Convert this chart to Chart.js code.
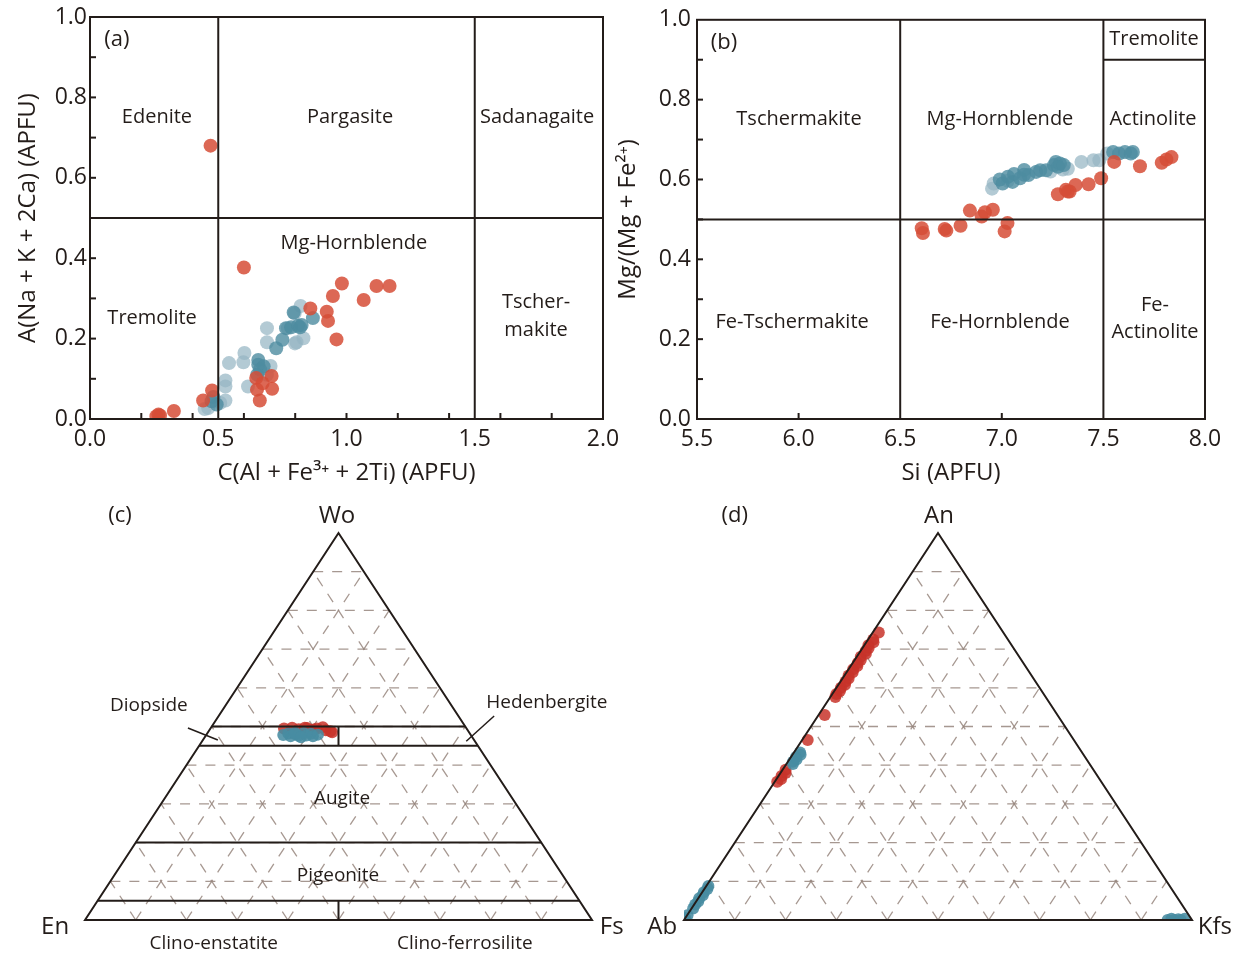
<!DOCTYPE html>
<html>
<head>
<meta charset="utf-8">
<script src="https://cdn.jsdelivr.net/npm/chart.js@4.4.1/dist/chart.umd.min.js"></script>
<style>
  body { margin: 0; background: #fff; width: 1241px; height: 957px; position: relative; overflow: hidden; }
  canvas { position: absolute; }
</style>
</head>
<body>
<canvas id="ca" width="640" height="490" style="left:0;top:0"></canvas>
<canvas id="cb" width="641" height="490" style="left:600px;top:0"></canvas>
<canvas id="cc" width="640" height="467" style="left:0;top:490px"></canvas>
<canvas id="cd" width="621" height="467" style="left:620px;top:490px"></canvas>
<script>
const INK = '#231c19';
const FONT = "'Open Sans', 'DejaVu Sans', sans-serif";

// (a) C(Al + Fe3+ + 2Ti) vs A(Na + K + 2Ca), APFU
const aRed = [[0.47,0.68],[0.60,0.377],[0.982,0.337],[1.117,0.331],[1.168,0.331],[0.947,0.306],[1.067,0.296],
  [0.859,0.275],[0.923,0.267],[0.928,0.244],[0.961,0.198],[0.648,0.102],[0.708,0.107],[0.673,0.089],[0.651,0.073],
  [0.710,0.075],[0.662,0.046],[0.476,0.071],[0.441,0.046],[0.327,0.020],[0.267,0.011],[0.273,0.009],[0.259,0.007]];
const aBlueLight = [[0.821,0.281],[0.798,0.263],[0.690,0.226],[0.690,0.191],[0.805,0.191],[0.832,0.201],[0.602,0.164],
  [0.598,0.141],[0.542,0.139],[0.528,0.096],[0.528,0.081],[0.616,0.081],[0.704,0.132],[0.528,0.046],[0.461,0.027],
  [0.447,0.025],[0.508,0.040],[0.690,0.110],[0.771,0.226],[0.799,0.188]];
const aBlueDark = [[0.869,0.251],[0.794,0.265],[0.764,0.226],[0.784,0.228],[0.811,0.232],[0.825,0.234],[0.750,0.197],
  [0.726,0.176],[0.656,0.147],[0.656,0.135],[0.663,0.123],[0.677,0.131],[0.652,0.110],[0.474,0.044],[0.494,0.036],
  [0.481,0.055],[0.819,0.228]];
const aMinorX = [0.2,0.4,0.6,0.8,1.0,1.2,1.4,1.6,1.8];
const aMinorY = [0.1,0.2,0.3,0.4,0.5,0.6,0.7,0.8,0.9];
const aFields = [[[0.5,0],[0.5,1]], [[1.5,0],[1.5,1]], [[0,0.5],[2,0.5]]];
const aNames = [['(a)',0.105,0.943,22],['Edenite',0.261,0.751,20],['Pargasite',1.014,0.751,20],['Sadanagaite',1.743,0.751,20],
  ['Mg-Hornblende',1.029,0.438,20],['Tremolite',0.242,0.251,20],['Tscher-',1.739,0.291,20],['makite',1.739,0.221,20]];

// (b) Si vs Mg/(Mg + Fe2+)
const bRed = [[6.606,0.478],[6.612,0.466],[6.719,0.476],[6.727,0.472],[6.797,0.484],[6.843,0.522],[6.901,0.507],
  [6.917,0.518],[6.956,0.524],[7.014,0.470],[7.028,0.491],[7.276,0.563],[7.315,0.574],[7.334,0.570],[7.325,0.57],
  [7.363,0.586],[7.427,0.588],[7.489,0.603],[7.553,0.644],[7.680,0.633],[7.787,0.642],[7.810,0.650],[7.835,0.656]];
const bBlueLight = [[6.952,0.577],[6.96,0.59],[7.325,0.627],[7.392,0.644],[7.451,0.648],[7.48,0.648],[7.519,0.665],
  [7.24,0.62],[7.3,0.625],[7.03,0.597]];
const bBlueDark = [[6.99,0.6],[7.004,0.59],[7.03,0.607],[7.053,0.594],[7.06,0.614],[7.09,0.603],[7.11,0.624],[7.131,0.611],
  [7.169,0.619],[7.189,0.623],[7.218,0.623],[7.257,0.636],[7.266,0.644],[7.276,0.632],[7.286,0.64],[7.305,0.636],
  [7.548,0.669],[7.577,0.665],[7.606,0.669],[7.635,0.665],[7.645,0.669],[7.11,0.612]];
const bMinorX = [6.0, 7.0];
const bMinorY = [0.1,0.2,0.3,0.4,0.5,0.6,0.7,0.8,0.9];
const bFields = [[[6.5,0],[6.5,1]], [[7.5,0],[7.5,1]], [[5.5,0.5],[8,0.5]], [[7.5,0.9],[8,0.9]]];
const bNames = [['(b)',5.633,0.943,22],['Tremolite',7.749,0.95,20],['Tschermakite',6.002,0.751,20],['Mg-Hornblende',6.991,0.751,20],
  ['Actinolite',7.744,0.751,20],['Fe-Tschermakite',5.968,0.241,20],['Fe-Hornblende',6.991,0.241,20],
  ['Fe-',7.754,0.286,20],['Actinolite',7.754,0.216,20]];

// (c) pyroxene Wo-En-Fs, points as [Wo, Fs]
const cRed = [[0.495,0.145],[0.497,0.16],[0.493,0.175],[0.496,0.19],[0.49,0.2],[0.495,0.21],[0.498,0.22],
  [0.49,0.23],[0.488,0.24],[0.485,0.245],[0.492,0.205],[0.497,0.185]];
const cBlue = [[0.478,0.152],[0.482,0.16],[0.475,0.168],[0.48,0.175],[0.476,0.183],[0.483,0.19],[0.477,0.198],
  [0.481,0.205],[0.475,0.212],[0.479,0.22],[0.484,0.172],[0.472,0.19]];
const cWoBounds = [0.05, 0.2, 0.45, 0.5];
const cSplits = [[0.45,0.5],[0,0.05]];
const cNames = [['(c)',0.069,1.044,22],['Wo',0.497,1.044,24],['En',-0.059,-0.018,24],['Fs',1.039,-0.018,24],
  ['Diopside',0.126,0.553,19],['Hedenbergite',0.911,0.563,19],['Augite',0.507,0.315,19],['Pigeonite',0.499,0.114,19],
  ['Clino-enstatite',0.254,-0.062,19],['Clino-ferrosilite',0.749,-0.062,19]];
const cLeaders = [[[0.203,0.496],[0.262,0.465]], [[0.807,0.527],[0.752,0.462]]];

// (d) feldspar An-Ab-Kfs, points as [An, Kfs]
const dRed = [[0.743,0.012],[0.725,0.01],[0.718,0.014],[0.71,0.008],[0.703,0.012],[0.695,0.01],[0.688,0.014],
  [0.68,0.008],[0.672,0.012],[0.664,0.01],[0.656,0.013],[0.648,0.009],[0.64,0.012],[0.632,0.008],[0.624,0.012],
  [0.616,0.01],[0.608,0.013],[0.6,0.009],[0.592,0.011],[0.584,0.008],[0.576,0.01],[0.53,0.012],[0.465,0.011],
  [0.388,0.006],[0.38,0.01],[0.372,0.006],[0.364,0.009],[0.357,0.005]];
const dBlue = [[0.433,0.012],[0.427,0.016],[0.421,0.01],[0.415,0.014],[0.409,0.01],[0.403,0.013],
  [0.088,0.004],[0.08,0.006],[0.072,0.003],[0.064,0.005],[0.056,0.002],[0.048,0.004],[0.04,0.002],[0.03,0.003],
  [0.012,0.001],[0.005,0.0],
  [0,0.952],[0.003,0.958],[0,0.965],[0.002,0.972],[0,0.978],[0.003,0.984]];
const dNames = [['(d)',0.1,1.044,22],['An',0.502,1.044,24],['Ab',-0.043,-0.018,24],['Kfs',1.045,-0.018,24]];

const RED = 'rgba(214,78,55,0.85)';
const BLUE_L = 'rgba(150,182,196,0.72)';
const BLUE_D = 'rgba(78,140,160,0.8)';
const RED_T = 'rgba(200,52,42,0.85)';
const BLUE_T = 'rgba(72,140,162,0.88)';

// ternary -> cartesian (right corner component + top/2, top)
const tern = (top, right) => ({ x: right + top / 2, y: top });
const xy = arr => arr.map(p => ({ x: p[0], y: p[1] }));

const decor = {
  id: 'decor',
  beforeDatasetsDraw(chart, args, o) {
    if (!o.ternGrid) return;
    const { ctx, scales: { x, y } } = chart;
    const P = (u, v) => [x.getPixelForValue(u), y.getPixelForValue(v)];
    ctx.save();
    ctx.strokeStyle = 'rgba(150,134,126,0.85)';
    ctx.lineWidth = 1.3;
    ctx.setLineDash([10, 9]);
    for (let i = 1; i < 10; i++) {
      const t = i / 10;
      [[[t/2, t], [1 - t/2, t]], [[t, 0], [t + (1 - t)/2, 1 - t]], [[1 - t, 0], [(1 - t)/2, 1 - t]]].forEach(([a, b]) => {
        ctx.beginPath(); ctx.moveTo(...P(...a)); ctx.lineTo(...P(...b)); ctx.stroke();
      });
    }
    ctx.restore();
  },
  afterDatasetsDraw(chart, args, o) {
    const { ctx, chartArea: ca, scales: { x, y } } = chart;
    const P = (u, v) => [x.getPixelForValue(u), y.getPixelForValue(v)];
    ctx.save();
    ctx.strokeStyle = INK;
    ctx.lineCap = 'butt';
    ctx.lineWidth = 2;
    (o.segments || []).forEach(([a, b]) => {
      ctx.beginPath(); ctx.moveTo(...P(...a)); ctx.lineTo(...P(...b)); ctx.stroke();
    });
    ctx.lineWidth = 1.5;
    (o.leaders || []).forEach(([a, b]) => {
      ctx.beginPath(); ctx.moveTo(...P(...a)); ctx.lineTo(...P(...b)); ctx.stroke();
    });
    ctx.lineWidth = 2;
    if (o.frame) ctx.strokeRect(ca.left, ca.top, ca.width, ca.height);
    if (o.triangle) {
      ctx.lineJoin = 'miter';
      ctx.beginPath(); ctx.moveTo(...P(0, 0)); ctx.lineTo(...P(0.5, 1)); ctx.lineTo(...P(1, 0)); ctx.closePath(); ctx.stroke();
    }
    (o.ticksX || []).forEach(v => {
      const px = x.getPixelForValue(v);
      ctx.beginPath(); ctx.moveTo(px, ca.bottom); ctx.lineTo(px, ca.bottom - 6); ctx.stroke();
    });
    (o.ticksY || []).forEach(v => {
      const py = y.getPixelForValue(v);
      ctx.beginPath(); ctx.moveTo(ca.left, py); ctx.lineTo(ca.left + 6, py); ctx.stroke();
    });
    ctx.fillStyle = INK;
    ctx.textAlign = 'center';
    ctx.textBaseline = 'middle';
    (o.texts || []).forEach(([t, u, v, s]) => {
      ctx.font = s + 'px ' + FONT;
      ctx.fillText(t, ...P(u, v));
    });
    ctx.restore();
  }
};
Chart.register(decor);
Chart.defaults.font.family = FONT;
Chart.defaults.color = INK;

function dots(data, color, r) {
  return { data, backgroundColor: color, borderWidth: 0, pointRadius: r, pointHoverRadius: r };
}

function rectChart(id, sets, o) {
  return new Chart(document.getElementById(id), {
    type: 'scatter',
    data: { datasets: sets },
    options: {
      responsive: false, animation: false, devicePixelRatio: 1,
      layout: { padding: o.padding },
      plugins: { legend: { display: false }, tooltip: { enabled: false },
        decor: { frame: true, segments: o.fields, ticksX: o.ticksX, ticksY: o.ticksY, texts: o.texts } },
      scales: {
        x: {
          type: 'linear', min: o.xMin, max: o.xMax,
          grid: { display: false, drawTicks: false }, border: { display: false },
          ticks: { stepSize: 0.5, padding: 7, font: { size: 23 }, color: INK, callback: v => v.toFixed(1) },
          title: { display: true, text: o.xTitle, font: { size: 24 }, color: INK, padding: { top: 0, bottom: 2 } },
          afterFit: s => { s.height = 71; }
        },
        y: {
          type: 'linear', min: 0, max: 1,
          grid: { display: false, drawTicks: false }, border: { display: false },
          ticks: { stepSize: 0.2, padding: o.yPad, font: { size: 23 }, color: INK, callback: v => v.toFixed(1) },
          title: { display: true, text: o.yTitle, font: { size: 24 }, color: INK, padding: { top: 14, bottom: 0 } },
          afterFit: s => { s.width = o.yWidth; }
        }
      }
    }
  });
}

rectChart('ca', [dots(xy(aRed), RED, 7), dots(xy(aBlueDark), BLUE_D, 7), dots(xy(aBlueLight), BLUE_L, 7)], {
  padding: { top: 17, right: 37, bottom: 0, left: 0 }, xMin: 0, xMax: 2, yWidth: 90, yPad: 3,
  xTitle: 'C(Al + Fe³⁺ + 2Ti) (APFU)', yTitle: 'A(Na + K + 2Ca) (APFU)',
  fields: aFields, ticksX: aMinorX, ticksY: aMinorY, texts: aNames
});

rectChart('cb', [dots(xy(bRed), RED, 7), dots(xy(bBlueDark), BLUE_D, 7), dots(xy(bBlueLight), BLUE_L, 7)], {
  padding: { top: 17, right: 36, bottom: 0, left: 0 }, xMin: 5.5, xMax: 8, yWidth: 97, yPad: 6,
  xTitle: 'Si (APFU)', yTitle: 'Mg/(Mg + Fe²⁺)',
  fields: bFields, ticksX: bMinorX, ticksY: bMinorY, texts: bNames
});

function ternChart(id, sets, o) {
  return new Chart(document.getElementById(id), {
    type: 'scatter',
    data: { datasets: sets },
    options: {
      responsive: false, animation: false, devicePixelRatio: 1,
      layout: { padding: o.padding },
      plugins: { legend: { display: false }, tooltip: { enabled: false },
        decor: { ternGrid: true, triangle: true, segments: o.segments, leaders: o.leaders, texts: o.texts } },
      scales: {
        x: { type: 'linear', min: 0, max: 1, display: false },
        y: { type: 'linear', min: 0, max: 1, display: false }
      }
    }
  });
}

const cSegs = cWoBounds.map(w => [[w / 2, w], [1 - w / 2, w]])
  .concat(cSplits.map(([a, b]) => [[0.5, a], [0.5, b]]));

ternChart('cc', [dots(cBlue.map(p => tern(p[0], p[1])), BLUE_T, 6), dots(cRed.map(p => tern(p[0], p[1])), RED_T, 6)], {
  padding: { top: 43, right: 48, bottom: 37, left: 85 },
  segments: cSegs, leaders: cLeaders, texts: cNames
});

ternChart('cd', [dots(dBlue.map(p => tern(p[0], p[1])), BLUE_T, 6), dots(dRed.map(p => tern(p[0], p[1])), RED_T, 6)], {
  padding: { top: 43, right: 49, bottom: 37, left: 64 },
  segments: [], leaders: [], texts: dNames
});
</script>
</body>
</html>
